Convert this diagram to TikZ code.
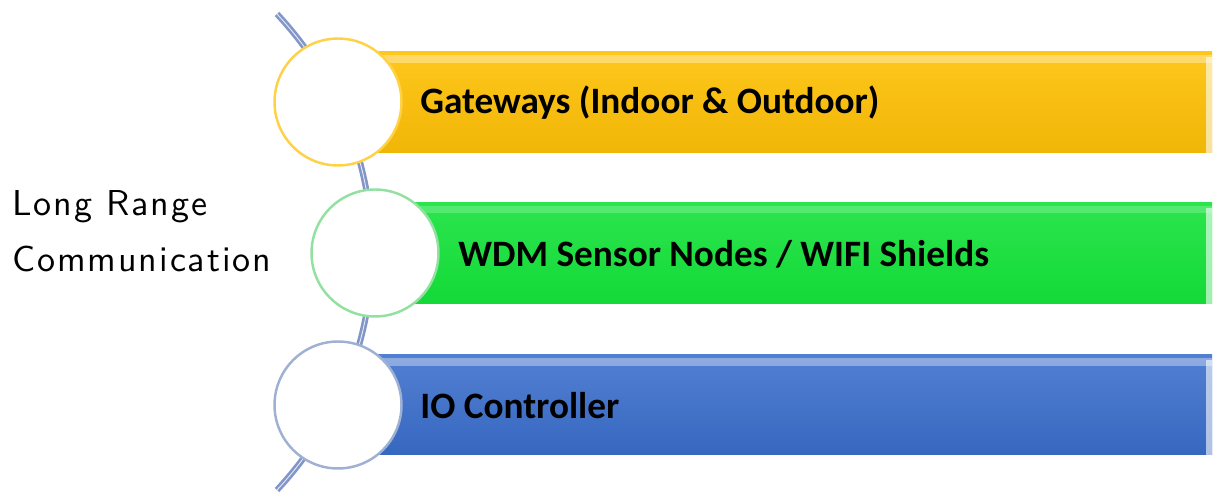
\documentclass[tikz,border=0pt]{standalone}
\usepackage{fontspec}
\usepackage{xcolor}
\usepackage{tikz}
\usetikzlibrary{calc}
\usetikzlibrary{shapes,positioning}
\newfontfamily\barfont{Carlito}
\newfontfamily\lrcfont[LetterSpace=5.4]{lmsans10-regular.otf}
\definecolor{gateyellow}{RGB}{255,194,8}
\definecolor{wdmgreen}{RGB}{20,226,58}
\definecolor{iocblue}{RGB}{58,110,204}
\definecolor{spinecol}{RGB}{130,150,200}

\begin{document}
\begin{tikzpicture}[x=0.02cm,y=-0.02cm,
	bubble/.style={circle,fill=white,line width=1.4pt,minimum size=2.54cm,inner sep=0pt},
	barlabel/.style={anchor=west,inner sep=0pt,font=\barfont\bfseries\fontsize{21.2}{25}\selectfont},
	shine/.style={white,opacity=0.35},
	bevel/.style={white,opacity=0.6},
	spine/.style={draw=spinecol,line width=1.5pt,double=white!80!spinecol,double distance=0.5pt}]
		\useasboundingbox (0,0) rectangle (1217,492);
		% spine behind everything
		\coordinate (top) at (277,14);
		\coordinate (bot) at (277,490);
		\draw[spine] (top) to[bend left=43] (bot);
		% bars
		\shade[top color=gateyellow!92!white,middle color=gateyellow,bottom color=gateyellow!94!black] (338,52) rectangle (1212,153);
		\fill[shine] (338,55) rectangle (1212,63);
		\fill[bevel] (1206,57) rectangle (1212,153);
		\shade[top color=wdmgreen!90!white,middle color=wdmgreen,bottom color=wdmgreen!96!black] (375,203) rectangle (1212,304);
		\fill[shine,opacity=0.2] (375,206) rectangle (1212,213);
		\fill[bevel] (1206,208) rectangle (1212,304);
		\shade[top color=iocblue!88!white,middle color=iocblue,bottom color=iocblue!94!black] (338,355) rectangle (1212,455);
		\fill[shine] (338,358) rectangle (1212,366);
		\fill[bevel] (1206,360) rectangle (1212,455);
		% circles
		\node[bubble,draw=gateyellow!75!white] (cgate) at (338,102) {};
		\node[bubble,draw=wdmgreen!45!white!85!gray] (cwdm) at (375,253) {};
		\node[bubble,draw=iocblue!45!white!80!gray] (cioc) at (338,405) {};
		% labels
		\node[barlabel] (gate) at (420,103) {Gateways (Indoor \& Outdoor)};
		\node[barlabel] (wdm) at (458,254) {WDM Sensor Nodes / WIFI Shields};
		\node[barlabel] (ioc) at (420,406) {IO Controller};
		\node[anchor=west,inner sep=0pt,align=left,font=\lrcfont\fontsize{20.5}{31.9}\selectfont] (lrc) at (12,231) {Long Range\\Communication};
	\end{tikzpicture}
\end{document}
